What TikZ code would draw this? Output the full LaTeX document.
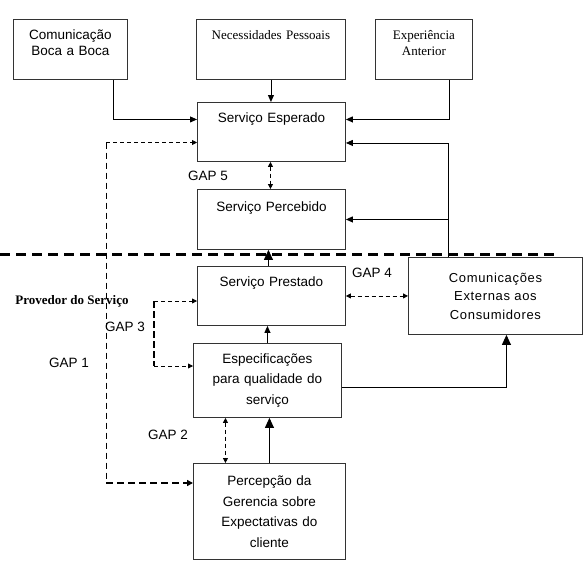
\documentclass[tikz,border=0pt]{standalone}
\usepackage{fontspec}
\setmainfont{Liberation Serif}
\setsansfont{Liberation Sans}
\usepackage{tikz}
\usetikzlibrary{arrows.meta, positioning, calc}
\tikzstyle{block} = [rectangle, draw=black!80, line width=0.9pt, inner sep=0pt, align=center, anchor=north west, font=\sffamily\fontsize{13.5}{15.5}\selectfont]
\tikzstyle{serifblock} = [block, font=\rmfamily\fontsize{13}{16}\selectfont]
\tikzstyle{arrow} = [line width=0.9pt, -{Triangle[length=7pt,width=6pt]}]
\tikzstyle{bigarrow} = [line width=0.9pt, -{Triangle[length=10pt,width=9pt]}]
\tikzstyle{gap} = [line width=0.8pt, dash pattern=on 4pt off 3pt]
\tikzstyle{gaptip} = [{Triangle[length=5pt,width=5pt]}-{Triangle[length=5pt,width=5pt]}]
\tikzstyle{gaplabel} = [font=\sffamily\fontsize{13.5}{15}\selectfont]

\begin{document}
\begin{tikzpicture}[x=1pt, y=-1pt]
\useasboundingbox (0,0) rectangle (586,563);

% caixas do lado do consumidor
\node[block, text width=114pt, text height=20.5pt, text depth=39.5pt] (boca) at (13,19) {Comunicação\\Boca a Boca};
\node[serifblock, text width=149pt, text height=20pt, text depth=40pt] (necess) at (196,19) {Necessidades Pessoais};
\node[serifblock, text width=97pt, text height=20pt, text depth=40pt] (exper) at (375,19) {Experiência\\Anterior};
\node[block, text width=148pt, text height=20pt, text depth=39pt] (esperado) at (197,102) {Serviço Esperado};
\node[block, text width=148pt, text height=22pt, text depth=38pt] (percebido) at (197,189) {Serviço Percebido};

% linha divisoria
\draw[line width=3pt, dash pattern=on 10pt off 6pt] (0,254) -- (558,254);

% caixas do lado do provedor
\node[block, text width=148pt, text height=20pt, text depth=39pt] (prestado) at (197,266) {Serviço Prestado};
\node[block, text width=174pt, minimum height=77pt, font=\sffamily\fontsize{13}{18.5}\selectfont\addfontfeature{LetterSpace=5}] (comunic) at (408,257) {Comunicações\\Externas aos\\Consumidores};
\node[block, text width=148pt, minimum height=74pt, font=\sffamily\fontsize{13.5}{20.5}\selectfont] (espec) at (193,343) {Especificações\\para qualidade do\\serviço};
\node[block, text width=152pt, minimum height=96pt, font=\sffamily\fontsize{13.5}{20.5}\selectfont] (percep) at (193,463) {Percepção da\\Gerencia sobre\\Expectativas do\\cliente};

% rotulos
\node[gaplabel] (gap5) at (208,176) {GAP 5};
\node[gaplabel] (gap4) at (372,273) {GAP 4};
\node[font=\rmfamily\bfseries\fontsize{13}{15}\selectfont] (provedor) at (72,301) {Provedor do Serviço};
\node[gaplabel] (gap3) at (125,327) {GAP 3};
\node[gaplabel] (gap1) at (69,363) {GAP 1};
\node[gaplabel] (gap2) at (168,435) {GAP 2};

% setas
\draw[arrow] ([xshift=43pt]boca.south) |- ([yshift=12.5pt]esperado.west);
\draw[arrow] (necess.south) -- (necess.south |- esperado.north);
\draw[arrow] ([xshift=25.5pt]exper.south) |- ([yshift=12.5pt]esperado.east);
\draw[arrow] ([xshift=-47pt]comunic.north) |- ([yshift=-11pt]esperado.east);
\draw[arrow] ([xshift=-47pt]comunic.north |- percebido.east) -- (percebido.east);
\draw[bigarrow] ([xshift=-3pt]prestado.north) -- ([xshift=-3pt]percebido.south);
\draw[arrow] (espec.north) -- (espec.north |- prestado.south);
\draw[bigarrow] ([yshift=-7pt]espec.east) -| ([xshift=11pt]comunic.south);
\draw[bigarrow] (percep.north) -- (percep.north |- espec.south);

% gaps
\draw[gap, gaptip] ([xshift=-1pt]esperado.south) -- ([xshift=-1pt]percebido.north);
\draw[gap, gaptip] (prestado.east) -- (comunic.west);
\draw[gap, gaptip] ([xshift=-42pt]espec.south) -- ([xshift=-42pt]espec.south |- percep.north);

\coordinate (g3a) at (154,301);
\coordinate (g3b) at (154,366);
\draw[gap, -{Triangle[length=5pt,width=5pt]}] (g3a) -- (g3a -| prestado.west);
\draw[gap, line width=2.2pt, dash pattern=on 7pt off 3pt] (g3a) -- (g3b);
\draw[gap, -{Triangle[length=5pt,width=5pt]}] (g3b) -- (g3b -| espec.west);

\coordinate (g1a) at (106,142.5);
\coordinate (g1b) at (106,483);
\draw[gap, -{Triangle[length=5pt,width=5pt]}] (g1a) -- (g1a -| esperado.west);
\draw[gap, dash pattern=on 6pt off 4pt] (g1a) -- (g1b);
\draw[gap, line width=1.8pt, dash pattern=on 7pt off 4pt, -{Triangle[length=6pt,width=6pt]}] (g1b) -- (g1b -| percep.west);
\end{tikzpicture}
\end{document}
